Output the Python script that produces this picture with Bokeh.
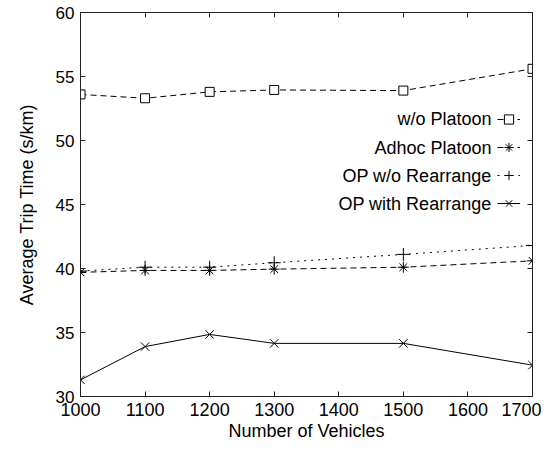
from bokeh.plotting import figure
from bokeh.models import (Range1d, FixedTicker, LinearAxis, Legend, LegendItem, Label,
                          CustomJSTickFormatter)
from bokeh.embed import file_html
from bokeh.resources import INLINE

vehicles = [1000, 1100, 1200, 1300, 1500, 1700]
wo_platoon = [53.6, 53.3, 53.8, 53.95, 53.9, 55.6]
adhoc_platoon = [39.7, 39.85, 39.85, 39.95, 40.1, 40.6]
op_wo_rearrange = [39.8, 40.1, 40.1, 40.45, 41.1, 41.8]
op_with_rearrange = [31.3, 33.9, 34.85, 34.15, 34.15, 32.45]

series_names = ["w/o Platoon", "Adhoc Platoon", "OP w/o Rearrange", "OP with Rearrange"]
x_ticks = [1000, 1100, 1200, 1300, 1400, 1500, 1600, 1700]
y_ticks = [30, 35, 40, 45, 50, 55, 60]

FONT = "Liberation Sans"

p = figure(width=541, height=446, output_backend="svg", toolbar_location=None,
           x_range=Range1d(1000, 1700), y_range=Range1d(30, 60),
           min_border_left=80, min_border_right=9, min_border_top=12, min_border_bottom=50)
p.grid.visible = False
p.outline_line_color = "#222222"
p.background_fill_color = "white"
p.border_fill_color = "white"

for ax in [p.xaxis[0], p.yaxis[0]]:
    ax.major_tick_in = 5
    ax.major_tick_out = 0
    ax.minor_tick_in = 0
    ax.minor_tick_out = 0
    ax.axis_line_color = "#222222"
    ax.major_tick_line_color = "#222222"
    ax.major_label_text_font = FONT
    ax.major_label_text_color = "black"
    ax.axis_label_text_font = FONT
    ax.axis_label_text_font_style = "normal"
    ax.axis_label_text_color = "black"
    ax.axis_label_text_font_size = "18px"

p.xaxis[0].ticker = FixedTicker(ticks=x_ticks)
p.yaxis[0].ticker = FixedTicker(ticks=y_ticks)
p.xaxis[0].major_label_text_font_size = "18px"
p.yaxis[0].major_label_text_font_size = "17px"
p.xaxis[0].major_label_standoff = 6
p.yaxis[0].major_label_standoff = 6
p.xaxis[0].axis_label = "Number of Vehicles"
p.yaxis[0].axis_label = "Average Trip Time (s/km)"
p.xaxis[0].axis_label_standoff = 2
p.yaxis[0].axis_label_standoff = 16

blank = CustomJSTickFormatter(code="return ''")
top = LinearAxis(ticker=FixedTicker(ticks=x_ticks), formatter=blank, major_tick_in=5, major_tick_out=0,
                 minor_tick_in=0, minor_tick_out=0, major_label_text_font_size="1px",
                 major_label_standoff=0, axis_line_color="#222222", major_tick_line_color="#222222")
right = LinearAxis(ticker=FixedTicker(ticks=y_ticks), formatter=blank, major_tick_in=5, major_tick_out=0,
                   minor_tick_in=0, minor_tick_out=0, major_label_text_font_size="1px",
                   major_label_standoff=0, axis_line_color="#222222", major_tick_line_color="#222222")
p.add_layout(top, "above")
p.add_layout(right, "right")

l1 = p.line(vehicles, wo_platoon, line_color="black", line_width=1, line_dash="6 4")
s1 = p.scatter(vehicles, wo_platoon, marker="square", size=9, fill_color="white", line_color="black", line_width=1)
l2 = p.line(vehicles, adhoc_platoon, line_color="black", line_width=1, line_dash="6 4")
s2 = p.scatter(vehicles, adhoc_platoon, marker="asterisk", size=11, line_color="black", line_width=1)
l3 = p.line(vehicles, op_wo_rearrange, line_color="black", line_width=1, line_dash="2 5")
s3 = p.scatter(vehicles, op_wo_rearrange, marker="cross", size=13, line_color="black", line_width=1)
l4 = p.line(vehicles, op_with_rearrange, line_color="black", line_width=1)
s4 = p.scatter(vehicles, op_with_rearrange, marker="x", size=12, line_color="black", line_width=1)

items = [LegendItem(label=" ", renderers=[l, s]) for l, s in [(l1, s1), (l2, s2), (l3, s3), (l4, s4)]]
legend = Legend(items=items, location=(417, 179), glyph_width=23, glyph_height=28,
                label_height=28, label_width=0, label_standoff=0, spacing=0, padding=0, margin=0,
                border_line_color=None, background_fill_alpha=0, label_text_font_size="1px")
p.add_layout(legend, "center")

label_y = [278, 249, 221, 193]
for name, yy in zip(series_names, label_y):
    p.add_layout(Label(x=411, y=yy, x_units="screen", y_units="screen", text=name,
                       text_align="right", text_baseline="middle", text_font=FONT,
                       text_font_size="18px", text_color="black"))

open("out.html", "w").write(file_html(p, INLINE))
